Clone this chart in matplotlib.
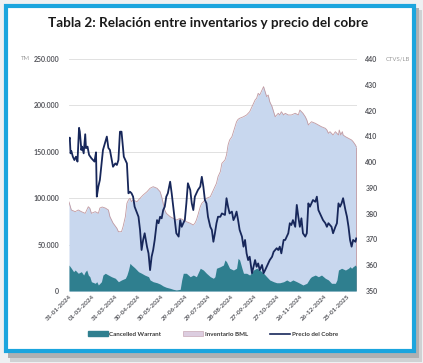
import matplotlib
matplotlib.use('Agg')
import matplotlib.pyplot as plt
import matplotlib.patches as mpatches
from matplotlib.lines import Line2D
import matplotlib.dates as mdates
import pandas as pd

plt.rcParams['font.family'] = ['Lato', 'DejaVu Sans']

inicio = '2024-01-31'
fin_dias = 373

# precio del cobre (ctvs/lb), dias desde el 31-01-2024
precio_dias = [0, 1, 2, 3, 5, 7, 9, 11, 13, 14, 16, 17, 19, 21, 22, 24, 26, 29, 33, 35,
               36, 38, 40, 44, 49, 51, 53, 57, 60, 62, 64, 66, 68, 71, 75, 77, 79, 81, 83, 85,
               90, 92, 94, 96, 98, 101, 103, 105, 107, 109, 111, 114, 116, 118, 120, 122, 124, 126, 128, 131,
               133, 135, 137, 139, 142, 144, 146, 148, 150, 152, 154, 157, 159, 161, 163, 165, 167, 170, 172, 174,
               176, 178, 180, 183, 185, 187, 189, 191, 193, 196, 198, 202, 204, 206, 208, 211, 213, 215, 217, 219,
               221, 224, 226, 228, 230, 232, 234, 237, 239, 241, 243, 245, 247, 250, 252, 254, 256, 258, 260, 263,
               265, 267, 269, 271, 273, 275, 278, 280, 284, 286, 288, 290, 293, 295, 297, 299, 301, 303, 306, 308,
               310, 312, 314, 316, 319, 321, 323, 325, 327, 329, 332, 334, 336, 338, 340, 342, 345, 347, 349, 351,
               353, 355, 358, 360, 362, 364, 366, 368, 371, 372]
precio = [408.6, 409.5, 403.4, 404.3, 402.1, 400.8, 402.1, 400.2, 413.3, 411.8,
          404.7, 406.0, 403.4, 410.8, 405.4, 406.0, 402.8, 401.5, 400.2, 403.8,
          386.6, 390.5, 393.1, 404.7, 409.9, 405.5, 404.7, 398.2, 399.5, 398.9,
          400.8, 411.8, 411.8, 402.1, 399.5, 387.9, 388.5, 387.9, 386.6, 382.7,
          378.8, 373.7, 365.9, 369.8, 372.4, 367.2, 364.6, 358.1, 363.3, 365.9,
          369.8, 377.5, 376.3, 378.8, 378.2, 381.4, 382.7, 386.6, 387.9, 392.4,
          387.9, 382.7, 377.5, 372.4, 371.1, 377.5, 374.9, 376.3, 377.5, 384.0,
          391.8, 389.2, 384.0, 381.4, 386.6, 387.9, 389.2, 390.5, 394.3, 390.5,
          385.3, 384.0, 378.8, 374.9, 373.7, 369.1, 372.4, 376.3, 378.8, 378.8,
          380.1, 379.5, 386.0, 382.7, 380.1, 380.8, 377.5, 378.8, 380.8, 377.5,
          373.7, 371.1, 367.2, 369.8, 364.6, 362.0, 363.3, 356.9, 359.4, 362.0,
          359.4, 360.7, 358.1, 360.1, 356.9, 358.1, 359.4, 360.7, 362.0, 363.3,
          365.2, 365.9, 366.6, 365.9, 367.2, 364.6, 369.8, 369.8, 372.4, 376.3,
          375.6, 377.5, 374.9, 383.4, 378.8, 374.9, 378.2, 372.4, 371.1, 372.4,
          384.0, 382.7, 384.0, 385.3, 384.6, 386.6, 381.4, 380.1, 378.8, 377.5,
          376.3, 374.9, 376.3, 375.6, 374.9, 372.4, 374.9, 376.3, 384.0, 382.7,
          384.0, 386.0, 381.4, 378.8, 374.9, 369.8, 367.2, 369.8, 369.1, 370.4]

# inventario BML (TM)
inv_dias = [0, 3, 8, 12, 16, 21, 23, 25, 27, 29, 34, 38, 40, 43, 47, 51, 53, 57, 62, 64,
            68, 70, 73, 75, 77, 79, 81, 83, 88, 92, 96, 101, 105, 109, 114, 118, 120, 122, 124, 126,
            131, 135, 139, 144, 148, 152, 157, 161, 163, 165, 167, 170, 172, 174, 178, 183, 185, 187, 189, 191,
            193, 196, 198, 200, 202, 204, 206, 208, 211, 213, 215, 217, 219, 221, 226, 230, 232, 234, 237, 239,
            241, 243, 245, 247, 250, 252, 254, 256, 258, 260, 263, 265, 267, 269, 271, 273, 275, 278, 280, 284,
            288, 293, 297, 299, 301, 303, 306, 308, 310, 312, 314, 319, 323, 327, 332, 334, 336, 338, 340, 342,
            345, 347, 349, 350, 352, 354, 355, 358, 362, 366, 368, 371, 372]
inventario = [95900, 87300, 85500, 87300, 85500, 83700, 87300, 90800, 89100, 83700,
              85500, 83700, 89400, 90500, 89400, 87300, 80100, 73300, 67600, 63900,
              63900, 69300, 80100, 94500, 98100, 99900, 96200, 98100, 96200, 99900,
              103400, 107000, 110700, 112400, 110700, 107000, 101600, 94500, 87300, 83700,
              80100, 78300, 76500, 78300, 76500, 74700, 73000, 71100, 73000, 76500,
              81900, 90800, 94500, 96200, 99900, 101600, 105300, 108800, 112400, 116100,
              123200, 128600, 137600, 139300, 141200, 146600, 157300, 162700, 166300, 171700,
              177000, 182400, 185000, 186100, 187800, 189700, 191500, 193200, 198600, 202300,
              205800, 207700, 213000, 211200, 216600, 220200, 214800, 209400, 211200, 204000,
              198600, 193200, 187800, 189700, 191500, 189700, 193200, 189700, 191500, 189700,
              189700, 191500, 189700, 195000, 193200, 191500, 187800, 184300, 178900, 180700,
              182400, 180700, 178900, 177000, 175300, 173500, 169900, 171700, 169900, 168100,
              171700, 169900, 168100, 173500, 168100, 171700, 168100, 166300, 164500, 162700,
              160900, 157300, 155500]

# cancelled warrants (TM)
cw_dias = [0, 3, 6, 8, 12, 16, 19, 21, 23, 25, 27, 29, 34, 36, 38, 42, 44, 47, 51, 55,
           60, 64, 68, 73, 75, 77, 79, 81, 85, 90, 94, 98, 103, 105, 109, 114, 118, 122, 126, 131,
           135, 139, 144, 146, 148, 152, 157, 161, 165, 170, 174, 178, 183, 187, 189, 191, 196, 200, 202, 204,
           208, 213, 217, 219, 221, 224, 226, 230, 234, 239, 243, 247, 252, 256, 260, 265, 269, 273, 278, 282,
           286, 290, 295, 299, 303, 308, 312, 314, 319, 323, 327, 332, 336, 340, 345, 347, 349, 353, 358, 362,
           364, 366, 368, 371, 372]
cancelled = [28000, 24500, 20800, 22600, 19100, 20800, 17200, 20800, 22600, 17200,
             15400, 10000, 8300, 10000, 6500, 10000, 17200, 19100, 17200, 15400,
             13700, 10000, 11900, 13700, 17200, 22600, 29800, 28000, 25100, 20800,
             19100, 17200, 15400, 11900, 10000, 8900, 7500, 5400, 4000, 2900,
             1800, 1100, 1800, 11900, 19100, 19100, 15400, 17200, 15400, 24500,
             22600, 19100, 15400, 13700, 15400, 24500, 26200, 28000, 33400, 31600,
             24500, 22600, 24500, 35200, 33400, 24500, 19100, 19100, 17200, 22600,
             24500, 22600, 19100, 15400, 11900, 10000, 8900, 8900, 10000, 11900,
             10000, 11900, 10000, 8300, 6500, 8300, 13700, 15400, 17200, 15400,
             17200, 13700, 11900, 8300, 8300, 11900, 22600, 24500, 22600, 24500,
             26200, 24500, 26200, 28000, 26200]

ytick_izq = [0, 50000, 100000, 150000, 200000, 250000]
ytick_izq_txt = ['0', '50.000', '100.000', '150.000', '200.000', '250.000']
ytick_der = [350, 360, 370, 380, 390, 400, 410, 420, 430, 440]

base = pd.Timestamp(inicio)
f_precio = base + pd.to_timedelta(precio_dias, unit='D')
f_inv = base + pd.to_timedelta(inv_dias, unit='D')
f_cw = base + pd.to_timedelta(cw_dias, unit='D')
xticks = pd.date_range(inicio, periods=13, freq='30D')

c_cw = '#2f7f8f'
c_inv = '#c8d7ee'
c_inv_borde = '#c19aa2'
c_precio = '#17275a'
c_gris = '#55565c'

W, H = 423, 363
fig = plt.figure(figsize=(W / 100, H / 100), dpi=100)
fig.patch.set_facecolor('#eef0f2')

def caja(x0, y0, x1, y1, **kw):
    # rectangulo en pixeles (origen arriba-izquierda)
    r = mpatches.Rectangle((x0 / W, 1 - y1 / H), (x1 - x0) / W, (y1 - y0) / H,
                           transform=fig.transFigure, **kw)
    fig.patches.append(r)

# sombra y marco
caja(10, 10, 422, 362, facecolor='#cfd1d3', edgecolor='none', zorder=0)
caja(8, 8, 419, 358, facecolor='#aeb0b2', edgecolor='none', zorder=0)
caja(5.5, 5.5, 413.5, 351, facecolor='white', edgecolor='#1ba5de', linewidth=3, zorder=1)

fig.text(208 / W, 1 - 23 / H, 'Tabla 2: Relación entre inventarios y precio del cobre',
         ha='center', va='center', fontsize=9.7, fontweight='bold', color='#1a1a1a')

ax = fig.add_axes([69 / W, 1 - 291 / H, 288 / W, 232 / H])
ax.set_facecolor('none')
ax.set_zorder(2)

ax.fill_between(f_inv, inventario, 0, color=c_inv, linewidth=0, zorder=2)
ax.plot(f_inv, inventario, color=c_inv_borde, linewidth=0.6, zorder=3)
ax.vlines(f_inv[-1], 0, inventario[-1], color=c_inv_borde, linewidth=0.6, zorder=3)
ax.fill_between(f_cw, cancelled, 0, color=c_cw, linewidth=0, zorder=4)

ax.set_ylim(0, 250000)
ax.set_yticks(ytick_izq)
ax.set_yticklabels(ytick_izq_txt)
ax.set_xlim(base, base + pd.Timedelta(days=fin_dias))
ax.set_xticks(xticks)
ax.xaxis.set_major_formatter(mdates.DateFormatter('%d-%m-%Y'))
ax.grid(axis='y', color='#dcdcdc', linewidth=0.6, zorder=0)
ax.set_axisbelow(True)
for s in ax.spines.values():
    s.set_visible(False)
ax.tick_params(axis='y', length=0, pad=7, labelsize=5, labelcolor=c_gris)
ax.tick_params(axis='x', length=0, pad=2, labelsize=4.6, labelcolor=c_gris)
for lab in ax.get_xticklabels() + ax.get_yticklabels():
    lab.set_fontweight('bold')
for lab in ax.get_xticklabels():
    lab.set_rotation(45)
    lab.set_ha('right')
    lab.set_rotation_mode('anchor')

ax2 = ax.twinx()
ax2.plot(f_precio, precio, color=c_precio, linewidth=1.3, zorder=5)
ax2.set_ylim(350, 440)
ax2.set_yticks(ytick_der)
for s in ax2.spines.values():
    s.set_visible(False)
ax2.tick_params(axis='y', length=0, pad=6, labelsize=5, labelcolor=c_gris)
for lab in ax2.get_yticklabels():
    lab.set_fontweight('bold')

fig.text(25 / W, 1 - 59 / H, 'TM', ha='center', va='center', fontsize=4.3, color='#9a9a9a')
fig.text(386 / W, 1 - 59 / H, 'CTVS/LB', ha='left', va='center', fontsize=4.3, color='#9a9a9a')

handles = [mpatches.Patch(facecolor=c_cw, edgecolor=c_cw),
           mpatches.Patch(facecolor='#dccde0', edgecolor='#c9a9b6', linewidth=0.5),
           Line2D([0], [0], color=c_precio, linewidth=1.2)]
fig.legend(handles, ['Cancelled Warrant', 'Inventario BML', 'Precio del Cobre'],
           loc='center', bbox_to_anchor=(213 / W, 1 - 334 / H), ncol=3, frameon=False,
           prop={'size': 4.5, 'weight': 'bold'}, handlelength=3.2, handleheight=0.9,
           columnspacing=3.5, handletextpad=0.3, labelcolor='#3a3a3a')

fig.savefig('out.png', dpi=100, facecolor=fig.get_facecolor())
